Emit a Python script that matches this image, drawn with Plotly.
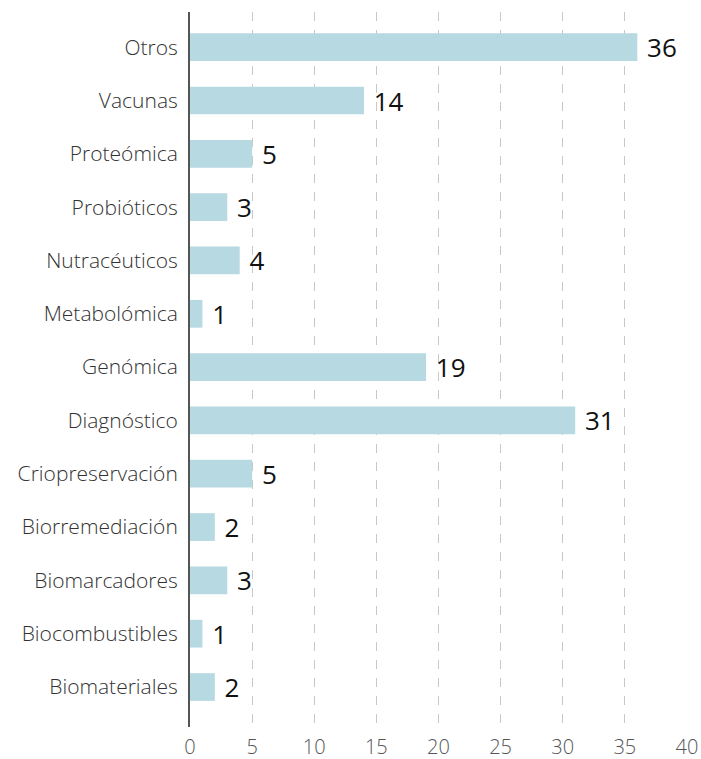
import plotly.graph_objects as go

categories = ["Biomateriales", "Biocombustibles", "Biomarcadores", "Biorremediación",
              "Criopreservación", "Diagnóstico", "Genómica", "Metabolómica",
              "Nutracéuticos", "Probióticos", "Proteómica", "Vacunas", "Otros"]
values = [2, 1, 3, 2, 5, 31, 19, 1, 4, 3, 5, 14, 36]
x_ticks = [0, 5, 10, 15, 20, 25, 30, 35, 40]

fig = go.Figure()
fig.add_trace(go.Bar(
    y=categories, x=values, orientation="h",
    marker=dict(color="#b7d9e2", line=dict(width=0)),
    width=0.52,
    text=[" " + str(v) for v in values],
    textposition="outside",
    constraintext="none",
    textfont=dict(family="Open Sans", size=26, color="#111111", weight=500),
    cliponaxis=False,
))

fig.update_layout(
    width=701, height=759,
    margin=dict(l=190, r=14, t=12, b=32, autoexpand=False),
    plot_bgcolor="white", paper_bgcolor="white",
    showlegend=False,
    font=dict(family="Open Sans", size=19, color="#444444"),
)
fig.update_xaxes(
    range=[0, 40], tickvals=x_ticks, showgrid=True,
    gridcolor="#c8c8c8", griddash="dash", gridwidth=1,
    zeroline=False, showline=False, ticks="", automargin=False,
    ticklabelstandoff=6,
    tickfont=dict(family="Open Sans", size=20, color="#555555", weight=300),
)
fig.update_yaxes(
    range=[-0.75, 12.66], showgrid=False, zeroline=False,
    showline=True, linecolor="#555555", linewidth=2,
    ticks="", ticklabelstandoff=6, automargin=False,
    tickfont=dict(family="Open Sans", size=21, color="#333333", weight=300),
)

fig.write_html("out.html", config={"displayModeBar": False},
               post_script="document.body.style.margin='0';")
